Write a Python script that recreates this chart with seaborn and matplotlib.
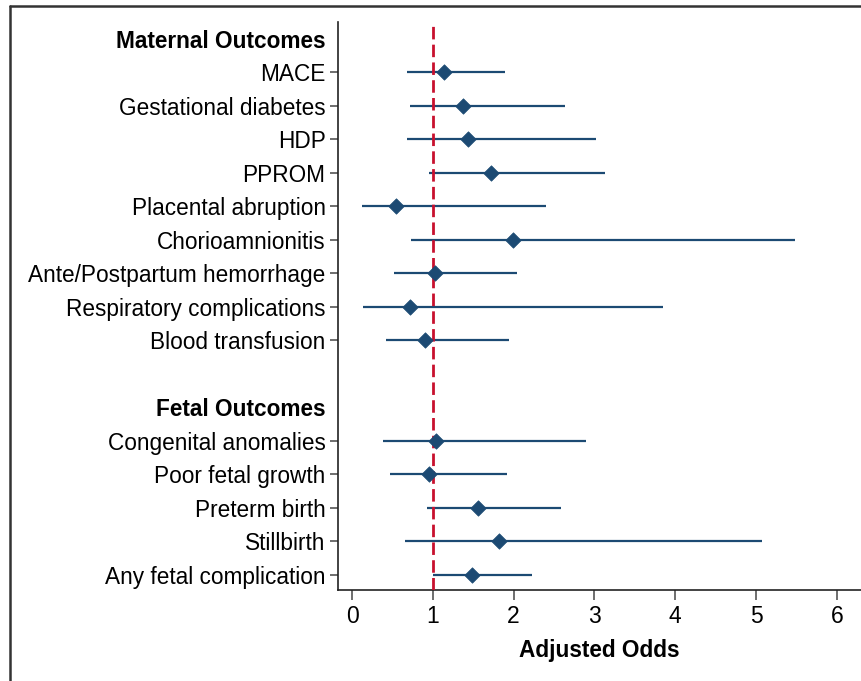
import matplotlib
matplotlib.use("Agg")
import matplotlib.pyplot as plt
from matplotlib.lines import Line2D
import seaborn as sns
import pandas as pd

labels = ["Maternal Outcomes", "MACE", "Gestational diabetes", "HDP", "PPROM",
          "Placental abruption", "Chorioamnionitis", "Ante/Postpartum hemorrhage",
          "Respiratory complications", "Blood transfusion", "",
          "Fetal Outcomes", "Congenital anomalies", "Poor fetal growth",
          "Preterm birth", "Stillbirth", "Any fetal complication"]
headers = ["Maternal Outcomes", "Fetal Outcomes"]

outcomes = ["MACE", "Gestational diabetes", "HDP", "PPROM", "Placental abruption",
            "Chorioamnionitis", "Ante/Postpartum hemorrhage", "Respiratory complications",
            "Blood transfusion", "Congenital anomalies", "Poor fetal growth",
            "Preterm birth", "Stillbirth", "Any fetal complication"]
odds = [1.14, 1.37, 1.44, 1.72, 0.54, 1.99, 1.03, 0.72, 0.90, 1.04, 0.95, 1.56, 1.82, 1.49]
ci_low = [0.68, 0.72, 0.68, 0.95, 0.125, 0.73, 0.52, 0.14, 0.42, 0.38, 0.47, 0.93, 0.66, 1.00]
ci_high = [1.89, 2.64, 3.02, 3.13, 2.40, 5.48, 2.04, 3.85, 1.94, 2.90, 1.92, 2.59, 5.08, 2.23]
x_ticks = [0, 1, 2, 3, 4, 5, 6]

sns.set_style("ticks")
plt.rcParams['font.family'] = ['Liberation Sans', 'DejaVu Sans']
plt.rcParams['text.color'] = 'black'
plt.rcParams['xtick.labelcolor'] = 'black'
plt.rcParams['ytick.labelcolor'] = 'black'
plt.rcParams['axes.labelcolor'] = 'black'

navy = "#1c4a73"
red = "#c8102e"

df = pd.DataFrame({"outcome": outcomes, "odds": odds, "lo": ci_low, "hi": ci_high})
df["pos"] = [labels.index(o) for o in df["outcome"]]

fig = plt.figure(figsize=(8.61, 6.81), dpi=100)
ax = fig.add_axes([0.3926, 0.1336, 0.6074, 0.8341])

ax.hlines(df["pos"], df["lo"], df["hi"], color=navy, linewidth=1.6, zorder=2)
ax.axvline(1, ymin=0, ymax=0.996, color=red, linestyle=(0, (4.5, 1.9)), linewidth=2.0, zorder=3)
sns.scatterplot(data=df, x="odds", y="pos", marker="D", s=62, color=navy,
                edgecolor=navy, linewidth=0.5, zorder=4, ax=ax, legend=False)

ax.set_ylim(16.45, -0.5)
ax.set_xlim(-0.174, 6.3)
ax.set_xticks(x_ticks)
ax.set_xticklabels([str(t) for t in x_ticks], fontsize=16.5)
ax.set_yticks(range(len(labels)))
ax.set_yticklabels(labels, fontsize=16.3)
for i, (lab, tick, tl) in enumerate(zip(labels, ax.yaxis.get_major_ticks(), ax.get_yticklabels())):
    if lab in headers or lab == "":
        tick.tick1line.set_visible(False)
    if lab in headers:
        tl.set_fontweight("bold")

ax.set_xlabel("Adjusted Odds", fontsize=16.3, fontweight="bold", labelpad=8)
ax.set_ylabel("")
ax.tick_params(axis="y", length=6, width=1.2, color="#555555", pad=3)
ax.tick_params(axis="x", length=7, width=1.2, color="#555555", pad=4)
for s in ["top", "right"]:
    ax.spines[s].set_visible(False)
for s in ["left", "bottom"]:
    ax.spines[s].set_linewidth(1.2)
    ax.spines[s].set_color("#222222")

# outer frame lines of the original panel
fig.add_artist(Line2D([10 / 861, 1.0], [1 - 5.5 / 681, 1 - 5.5 / 681], color="#333333",
                      linewidth=1.8, transform=fig.transFigure))
fig.add_artist(Line2D([9.5 / 861, 9.5 / 861], [0, 1 - 5.5 / 681], color="#333333",
                      linewidth=1.8, transform=fig.transFigure))

fig.savefig("out.png", dpi=100)
